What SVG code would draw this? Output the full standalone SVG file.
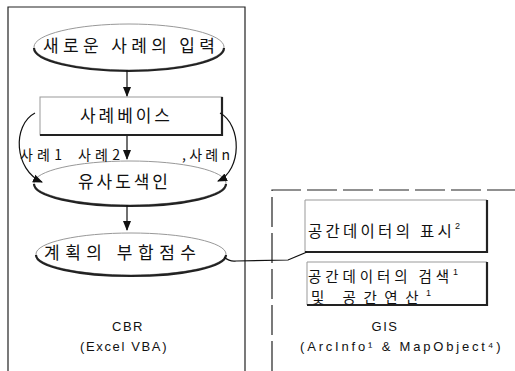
<svg xmlns="http://www.w3.org/2000/svg" width="515" height="371" viewBox="0 0 515 371">
<defs>
<style>
.ko{font-family:"Noto Sans CJK KR","Noto Sans",sans-serif;font-size:17px;fill:#111;}
.ks{font-family:"Noto Sans CJK KR","Noto Sans",sans-serif;font-size:14.5px;fill:#111;}
.lat{font-family:"Liberation Sans","DejaVu Sans",sans-serif;font-size:13px;fill:#111;letter-spacing:1.5px;}
.sup{font-family:"Liberation Sans","DejaVu Sans",sans-serif;font-size:9px;}
.lbl{font-family:"Noto Sans CJK KR","Noto Sans",sans-serif;font-size:14px;fill:#111;}
.panel{fill:none;stroke:#222;stroke-width:1.2;}
.node{fill:none;stroke:#999;stroke-width:1;}
.shadow{fill:none;stroke:#222;stroke-width:2.2;}
.conn{fill:none;stroke:#111;stroke-width:1.2;}
</style>
<marker id="ah" markerWidth="10" markerHeight="10" refX="9" refY="5" orient="auto" markerUnits="userSpaceOnUse">
<path d="M0,1 L10,5 L0,9 Z" fill="#111"/>
</marker>
</defs>

<g id="panels">
<path class="panel" d="M8,371 V7 H245 V371"/>
<path class="panel" d="M272,371 V190 H515" stroke-dasharray="30,6"/>
</g>

<g id="n_input">
<ellipse class="node" cx="129" cy="47" rx="95" ry="23"/>
<path class="shadow" d="M34,48 A95,23 0 0 0 224,48"/>
<text class="ko" x="129" y="52" text-anchor="middle" textLength="172" lengthAdjust="spacing">새로운 사례의 입력</text>
</g>

<g id="n_casebase">
<rect class="node" x="40" y="97" width="182" height="38"/>
<path class="shadow" d="M40,135 H222 V97"/>
<text class="ko" x="125" y="122" text-anchor="middle" textLength="90" lengthAdjust="spacing">사례베이스</text>
</g>

<g id="n_similarity">
<ellipse class="node" cx="130" cy="183" rx="96" ry="22"/>
<path class="shadow" d="M34,184 A96,22 0 0 0 226,184"/>
<text class="ko" x="123" y="188" text-anchor="middle" textLength="90" lengthAdjust="spacing">유사도색인</text>
</g>

<g id="n_score">
<ellipse class="node" cx="131" cy="254" rx="95" ry="21"/>
<path class="shadow" d="M36,255 A95,21 0 0 0 226,255"/>
<text class="ko" x="120" y="259" text-anchor="middle" textLength="152" lengthAdjust="spacing">계획의 부합점수</text>
</g>

<g id="n_display">
<path class="node" d="M305,252 V200 H487"/>
<path class="shadow" d="M305,252 H487 V200"/>
<text class="ko" x="308" y="237" style="font-size:15.5px" textLength="152" lengthAdjust="spacing">공간데이터의 표시<tspan class="sup" dy="-8">2</tspan></text>
</g>

<g id="n_search">
<path class="node" d="M307,305 V262 H487"/>
<path class="shadow" d="M307,305 H487 V262"/>
<text class="ks" x="308" y="282" textLength="150" lengthAdjust="spacing">공간데이터의 검색<tspan class="sup" dy="-7">1</tspan></text>
<text class="ks" x="311" y="303" textLength="120" lengthAdjust="spacing">및 공간연산<tspan class="sup" dy="-7">1</tspan></text>
</g>

<g id="labels">
<text class="lbl" x="20" y="160" textLength="42" lengthAdjust="spacing">사례1</text>
<text class="lbl" x="78" y="160" textLength="42" lengthAdjust="spacing">사례2</text>
<text class="lbl" x="182" y="160" textLength="48" lengthAdjust="spacing">,사례n</text>
<text class="lat" x="128" y="331" text-anchor="middle">CBR</text>
<text class="lat" x="80" y="351" textLength="88" lengthAdjust="spacing">(Excel VBA)</text>
<text class="lat" x="385" y="331" text-anchor="middle">GIS</text>
<text class="lat" x="300" y="351" textLength="202" lengthAdjust="spacing">(ArcInfo¹ &amp; MapObject⁴)</text>
</g>

<g id="connectors">
<line class="conn" x1="127" y1="70" x2="127" y2="96" marker-end="url(#ah)"/>
<line class="conn" x1="127" y1="136" x2="127" y2="159" marker-end="url(#ah)"/>
<line class="conn" x1="127" y1="205" x2="127" y2="230" marker-end="url(#ah)"/>
<path class="conn" d="M35,113 C12,125 14,170 42,182" marker-end="url(#ah)"/>
<path class="conn" d="M220,113 C242,125 242,170 218,181" marker-end="url(#ah)"/>
<path class="conn" d="M224,257 Q230,262 236,261 L288,260 L307,252"/>
</g>
</svg>
